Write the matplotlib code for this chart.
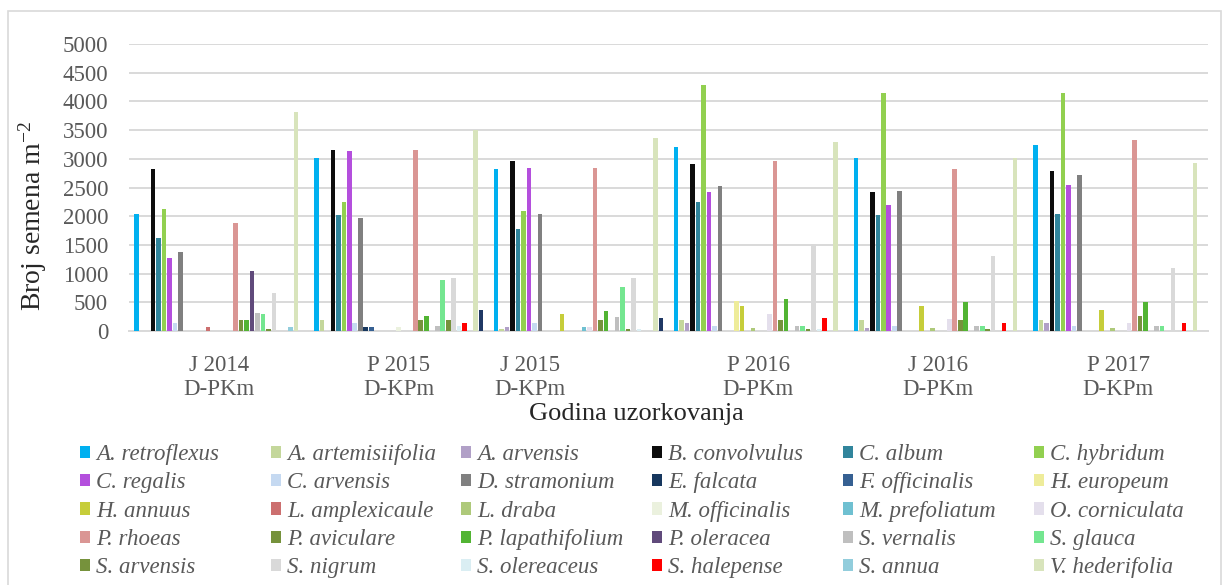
import numpy as np
import matplotlib
matplotlib.use("Agg")
import matplotlib.pyplot as plt
from matplotlib.patches import Rectangle

plt.rcParams['font.family'] = ['Liberation Serif', 'DejaVu Serif']
plt.rcParams['mathtext.default'] = 'regular'

# categories on the x axis
groups = ["J 2014\nD-PKm", "P 2015\nD-KPm", "J 2015\nD-KPm",
          "P 2016\nD-PKm", "J 2016\nD-PKm", "P 2017\nD-KPm"]

# species (legend order) and their colors
species = ["A. retroflexus", "A. artemisiifolia", "A. arvensis", "B. convolvulus",
           "C. album", "C. hybridum", "C. regalis", "C. arvensis", "D. stramonium",
           "E. falcata", "F. officinalis", "H. europeum", "H. annuus",
           "L. amplexicaule", "L. draba", "M. officinalis", "M. prefoliatum",
           "O. corniculata", "P. rhoeas", "P. aviculare", "P. lapathifolium",
           "P. oleracea", "S. vernalis", "S. glauca", "S. arvensis", "S. nigrum",
           "S. olereaceus", "S. halepense", "S. annua", "V. hederifolia", ""]
colors = ["#00b0f0", "#c4d79b", "#b1a0c7", "#0d0d0d", "#31859c", "#92d050",
          "#b44fdd", "#c5d9f1", "#808080", "#17375e", "#366092", "#eeec9a",
          "#c6cd3a", "#cc6f6f", "#aec97a", "#ebf1de", "#6fc0d1", "#e4dfec",
          "#da9694", "#76923c", "#52b433", "#604a7b", "#bfbfbf", "#74e690",
          "#76923c", "#d9d9d9", "#daeef3", "#ff0000", "#92cddc", "#d8e4bc",
          "#1f3864"]

# seed counts per species, one value per category
a_retroflexus = [2040, 3020, 2820, 3210, 3020, 3240]
a_artemisiifolia = [0, 190, 35, 190, 190, 190]
a_arvensis = [0, 0, 70, 140, 60, 140]
b_convolvulus = [2820, 3160, 2960, 2910, 2420, 2790]
c_album = [1620, 2020, 1770, 2240, 2020, 2040]
c_hybridum = [2120, 2240, 2090, 4290, 4140, 4140]
c_regalis = [1270, 3140, 2840, 2420, 2190, 2540]
c_arvensis = [140, 140, 140, 90, 90, 90]
d_stramonium = [1370, 1970, 2040, 2520, 2440, 2710]
e_falcata = [0, 70, 0, 0, 0, 0]
f_officinalis = [0, 70, 0, 0, 0, 0]
h_europeum = [0, 0, 0, 520, 0, 0]
h_annuus = [0, 0, 290, 440, 440, 370]
l_amplexicaule = [70, 0, 0, 0, 0, 0]
l_draba = [0, 0, 0, 60, 60, 60]
m_officinalis = [0, 70, 0, 0, 0, 0]
m_prefoliatum = [0, 0, 70, 0, 0, 0]
o_corniculata = [0, 0, 70, 290, 210, 140]
p_rhoeas = [1890, 3160, 2840, 2960, 2820, 3320]
p_aviculare = [190, 190, 190, 190, 190, 260]
p_lapathifolium = [190, 270, 340, 560, 510, 510]
p_oleracea = [1050, 0, 0, 0, 0, 0]
s_vernalis = [310, 90, 240, 90, 90, 90]
s_glauca = [290, 890, 760, 90, 90, 90]
s_arvensis = [35, 190, 35, 35, 35, 0]
s_nigrum = [660, 920, 920, 1520, 1310, 1090]
s_olereaceus = [0, 90, 35, 35, 0, 0]
s_halepense = [0, 140, 0, 220, 140, 140]
s_annua = [70, 0, 0, 0, 0, 0]
v_hederifolia = [3820, 3510, 3360, 3290, 3010, 2920]
unnamed = [0, 370, 220, 0, 0, 0]

values = [a_retroflexus, a_artemisiifolia, a_arvensis, b_convolvulus, c_album,
          c_hybridum, c_regalis, c_arvensis, d_stramonium, e_falcata,
          f_officinalis, h_europeum, h_annuus, l_amplexicaule, l_draba,
          m_officinalis, m_prefoliatum, o_corniculata, p_rhoeas, p_aviculare,
          p_lapathifolium, p_oleracea, s_vernalis, s_glauca, s_arvensis,
          s_nigrum, s_olereaceus, s_halepense, s_annua, v_hederifolia, unnamed]

W, H = 1229, 585
fig = plt.figure(figsize=(W / 100, H / 100), dpi=100)
ax = fig.add_axes([129 / W, 1 - 331 / H, 1079 / W, 287 / H])

x = np.arange(len(groups))
n = len(values)
step = 1 / 32.7
handles = []
for j, vals in enumerate(values):
    b = ax.bar(x + (j - (n - 1) / 2) * step, vals, width=step * 0.82,
               color=colors[j], zorder=3)
    handles.append(b)

ax.set_xlim(-0.5, len(groups) - 0.5)
ax.set_ylim(0, 5000)
ax.set_yticks(np.arange(0, 5001, 500))
ax.grid(axis='y', color='#d9d9d9', lw=1.4, zorder=0)
for s in ['top', 'right', 'left']:
    ax.spines[s].set_visible(False)
ax.spines['bottom'].set_color('#d9d9d9')
ax.spines['bottom'].set_linewidth(1.4)
ax.tick_params(axis='y', length=0, pad=15, labelsize=16.5, labelcolor='#595959')
ax.tick_params(axis='x', length=0, pad=17, labelsize=16.5, labelcolor='#595959')

tick_pos = x.astype(float)
tick_pos[2] -= 0.272
ax.set_xticks(tick_pos)
ax.set_xticklabels(groups, linespacing=1.2)

fig.text(636 / W, 1 - 414 / H, "Godina uzorkovanja", ha='center', va='center',
         fontsize=19, color='#262626')
fig.text(33 / W, 1 - 216 / H, "Broj semena m$^{-2}$", ha='center', va='center',
         rotation=90, fontsize=20, color='#262626')

# legend: 6 equal-width columns, row-major order like the original
col_x = [80, 271, 461, 652, 843, 1034]
for c in range(6):
    idx = list(range(c, 30, 6))
    fig.legend([handles[i] for i in idx], [species[i] for i in idx],
               loc='upper left', bbox_to_anchor=(col_x[c] / W, 1 - 444 / H),
               frameon=False, borderpad=0, borderaxespad=0,
               handlelength=0.45, handleheight=0.45, handletextpad=0.25,
               labelspacing=0.32,
               prop={'style': 'italic', 'size': 16.5}, labelcolor='#595959')

fig.add_artist(Rectangle((8 / W, -0.02), 1213 / W, 1 - 11 / H + 0.02,
                         transform=fig.transFigure, fill=False,
                         edgecolor='#d9d9d9', lw=1.2))

fig.savefig("out.png", dpi=100)
